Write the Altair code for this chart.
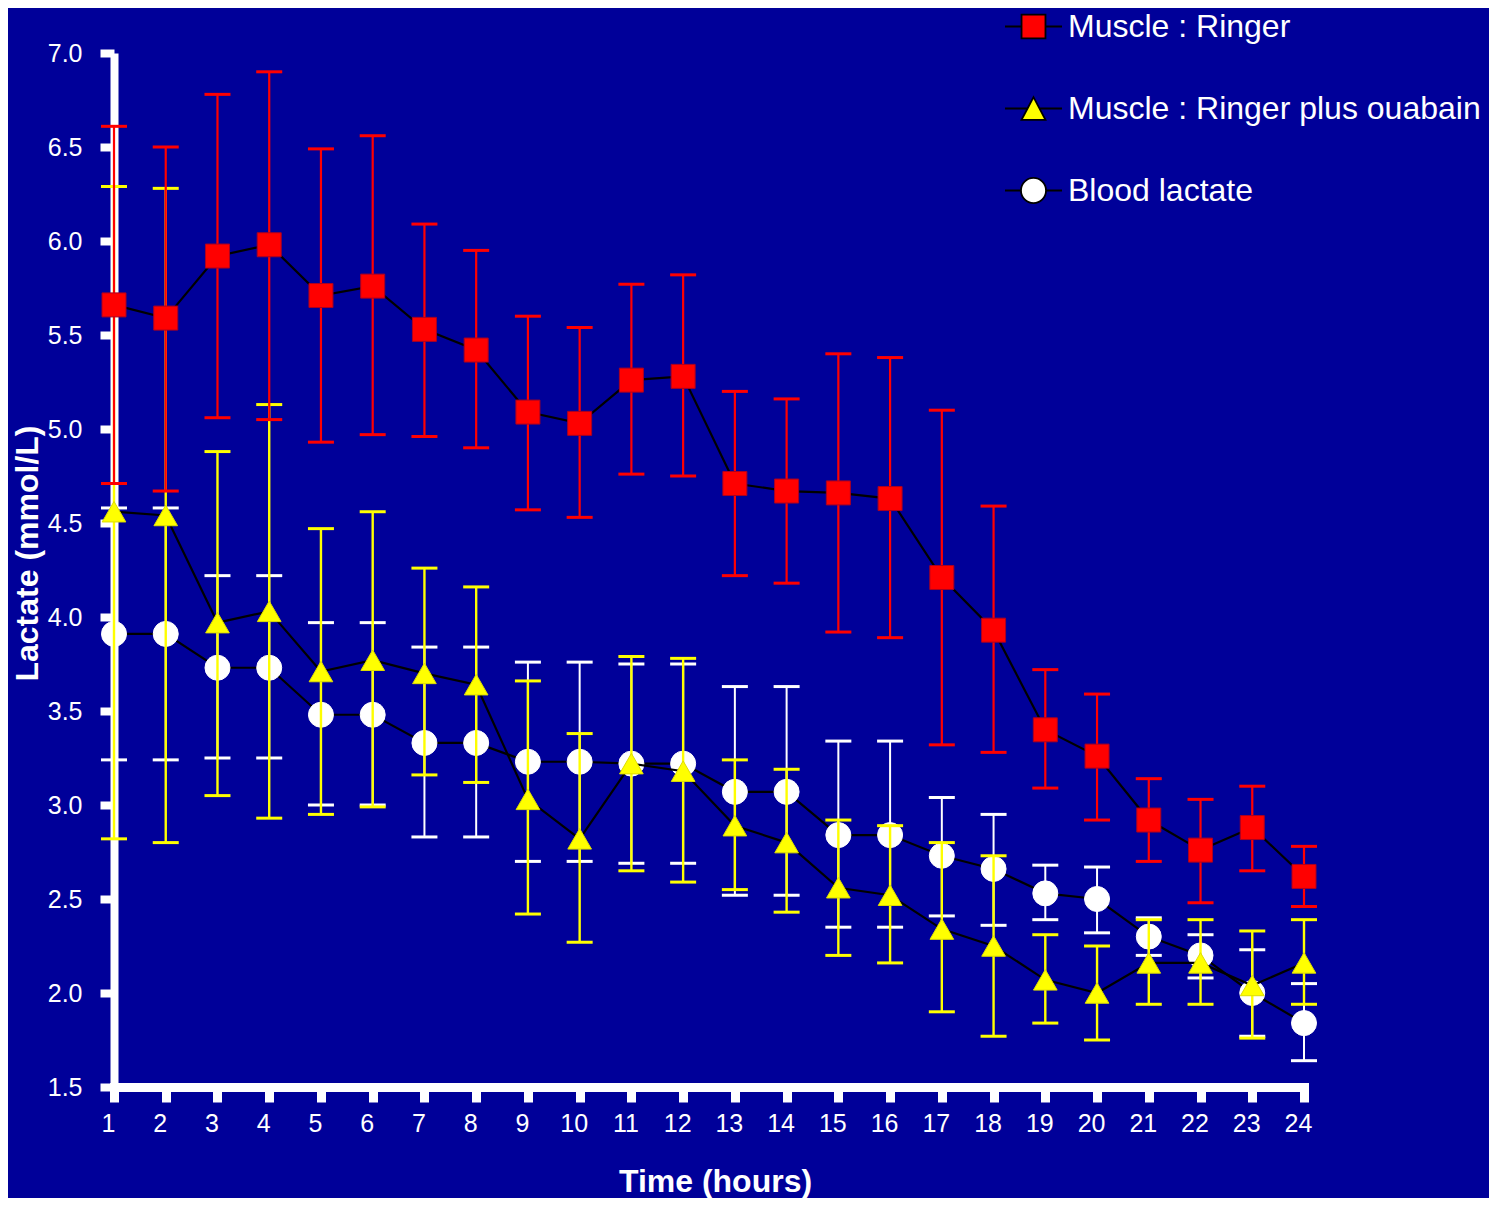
import altair as alt
import pandas as pd

hours = list(range(1, 25))
series_names = ["Muscle : Ringer", "Muscle : Ringer plus ouabain", "Blood lactate"]

ringer_mean = [5.66, 5.59, 5.92, 5.98, 5.71, 5.76, 5.53, 5.42, 5.09, 5.03, 5.26, 5.28,
               4.71, 4.67, 4.66, 4.63, 4.21, 3.93, 3.40, 3.26, 2.92, 2.76, 2.88, 2.62]
ringer_hi = [6.61, 6.50, 6.78, 6.90, 6.49, 6.56, 6.09, 5.95, 5.60, 5.54, 5.77, 5.82,
             5.20, 5.16, 5.40, 5.38, 5.10, 4.59, 3.72, 3.59, 3.14, 3.03, 3.10, 2.78]
ringer_lo = [4.71, 4.67, 5.06, 5.05, 4.93, 4.97, 4.96, 4.90, 4.57, 4.53, 4.76, 4.75,
             4.22, 4.18, 3.92, 3.89, 3.32, 3.28, 3.09, 2.92, 2.70, 2.48, 2.65, 2.46]

ouabain_mean = [4.56, 4.54, 3.97, 4.03, 3.71, 3.77, 3.70, 3.64, 3.03, 2.82, 3.22, 3.18,
                2.89, 2.80, 2.56, 2.52, 2.34, 2.25, 2.07, 2.00, 2.16, 2.16, 2.04, 2.16]
ouabain_hi = [6.29, 6.28, 4.88, 5.13, 4.47, 4.56, 4.26, 4.16, 3.66, 3.38, 3.79, 3.78,
              3.24, 3.19, 2.92, 2.89, 2.80, 2.73, 2.31, 2.25, 2.39, 2.39, 2.33, 2.39]
ouabain_lo = [2.82, 2.80, 3.05, 2.93, 2.95, 2.99, 3.16, 3.12, 2.42, 2.27, 2.65, 2.59,
              2.55, 2.43, 2.20, 2.16, 1.90, 1.77, 1.84, 1.75, 1.94, 1.94, 1.76, 1.94]

blood_mean = [3.91, 3.91, 3.73, 3.73, 3.48, 3.48, 3.33, 3.33, 3.23, 3.23, 3.22, 3.22,
              3.07, 3.07, 2.84, 2.84, 2.73, 2.66, 2.53, 2.50, 2.30, 2.20, 2.00, 1.84]
blood_hi = [4.58, 4.58, 4.22, 4.22, 3.97, 3.97, 3.84, 3.84, 3.76, 3.76, 3.75, 3.75,
            3.63, 3.63, 3.34, 3.34, 3.04, 2.95, 2.68, 2.67, 2.40, 2.31, 2.23, 2.05]
blood_lo = [3.24, 3.24, 3.25, 3.25, 3.00, 3.00, 2.83, 2.83, 2.70, 2.70, 2.69, 2.69,
            2.52, 2.52, 2.35, 2.35, 2.41, 2.36, 2.39, 2.32, 2.20, 2.08, 1.77, 1.64]

y_ticks = [1.5, 2.0, 2.5, 3.0, 3.5, 4.0, 4.5, 5.0, 5.5, 6.0, 6.5, 7.0]

rows = []
for name, m, lo, hi in [(series_names[0], ringer_mean, ringer_lo, ringer_hi),
                        (series_names[1], ouabain_mean, ouabain_lo, ouabain_hi),
                        (series_names[2], blood_mean, blood_lo, blood_hi)]:
    for h, a, b, c in zip(hours, m, lo, hi):
        rows.append({"hour": h, "series": name, "mean": a, "lo": b, "hi": c})
df = pd.DataFrame(rows)

BG = "#000099"
FONT = "Liberation Sans"

x_scale = alt.Scale(domain=[1, 24], nice=False, zero=False)
y_scale = alt.Scale(domain=[1.5, 7.0], nice=False, zero=False)

x_axis = alt.Axis(values=hours, format="d", title="Time (hours)", grid=False,
                  domainColor="white", domainWidth=9, domainCap="square",
                  tickColor="white", tickWidth=9, tickSize=15,
                  labelColor="white", labelFont=FONT, labelFontSize=25,
                  labelPadding=9, labelOffset=-6, labelFlush=False, labelOverlap=False,
                  titleColor="white", titleFont=FONT, titleFontSize=32,
                  titleFontWeight="bold", titleX=601, titleY=79, titleAlign="center")
y_axis = alt.Axis(values=y_ticks, format=".1f", title="Lactate (mmol/L)", grid=False,
                  domainColor="white", domainWidth=8,
                  tickColor="white", tickWidth=8, tickSize=14,
                  labelColor="white", labelFont=FONT, labelFontSize=25,
                  labelPadding=18, labelFlush=False, labelOverlap=False,
                  titleColor="white", titleFont=FONT, titleFontSize=32,
                  titleFontWeight="bold", titleX=-70, titleY=500, titleAngle=270)


def X():
    return alt.X("hour:Q", scale=x_scale, axis=x_axis)


def Y(field):
    return alt.Y(f"{field}:Q", scale=y_scale, axis=y_axis)


def series_layers(name, color, shape, size, mstroke, bar_w, cap_w):
    base = alt.Chart(df).transform_filter(alt.datum.series == name)
    line = base.mark_line(color="black", strokeWidth=2.2).encode(x=X(), y=Y("mean"))
    rule = base.mark_rule(color=color, strokeWidth=bar_w).encode(
        x=X(), y=Y("lo"), y2="hi:Q")
    cap_lo = base.mark_tick(color=color, orient="horizontal", size=26,
                            thickness=cap_w, opacity=1).encode(x=X(), y=Y("lo"))
    cap_hi = base.mark_tick(color=color, orient="horizontal", size=26,
                            thickness=cap_w, opacity=1).encode(x=X(), y=Y("hi"))
    pts = base.mark_point(filled=True, fill=color, shape=shape, size=size,
                          stroke=mstroke, strokeWidth=1, opacity=1).encode(x=X(), y=Y("mean"))
    return [line, rule, cap_lo, cap_hi, pts]


layers = []
layers += series_layers(series_names[2], "#ffffff", "circle", 625, "#ffffff", 2, 3)
layers += series_layers(series_names[1], "#ffff00", "triangle-up", 560, "#dddd00", 2.4, 3)
layers += series_layers(series_names[0], "#ff0000", "square", 576, "#aa0022", 2.2, 3)

sq_path = "M-1,0H-0.42V-0.42H0.42V0.42H-0.42V0M0.42,0H1"
tri_path = "M-1,0H-0.21L0,-0.4L0.42,0.4H-0.42L-0.21,0M0.21,0H1"
circ_path = "M-1,0H-0.44A0.44,0.44,0,1,1,0.44,0A0.44,0.44,0,1,1,-0.44,0M0.44,0H1"

leg = alt.Legend(title=None, orient="none", legendX=890, legendY=-56, padding=0, offset=0,
                 labelFontSize=32, labelColor="white", labelFont=FONT, labelLimit=1000,
                 symbolSize=3249, symbolStrokeColor="black", symbolStrokeWidth=1.8,
                 rowPadding=36, labelOffset=5, symbolOffset=0)

legend_layer = alt.Chart(df).transform_filter("datum.hour < 0").mark_point(
    filled=True, opacity=1, stroke="black", strokeWidth=1.8).encode(
    x=X(), y=Y("mean"),
    color=alt.Color("series:N", scale=alt.Scale(domain=series_names,
                                                range=["#ff0000", "#ffff00", "#ffffff"]),
                    legend=leg),
    shape=alt.Shape("series:N", scale=alt.Scale(domain=series_names,
                                                range=[sq_path, tri_path, circ_path]),
                    legend=leg))

layers.append(legend_layer)

chart = alt.layer(*layers).properties(
    width=1190, height=1034,
    autosize=alt.AutoSizeParams(type="none"),
    padding={"left": 106, "top": 45, "right": 185, "bottom": 111},
).configure(background=BG).configure_view(stroke=None)

chart.save("out.html", embed_options={"renderer": "svg", "actions": False})
